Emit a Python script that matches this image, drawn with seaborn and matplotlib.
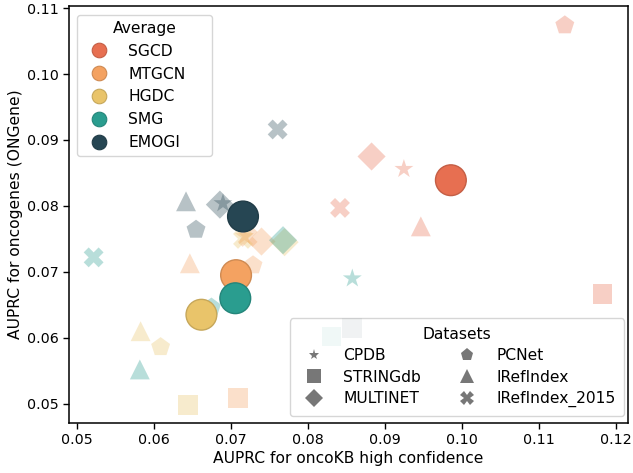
import matplotlib
matplotlib.use("Agg")
import matplotlib.pyplot as plt
from matplotlib.lines import Line2D
import matplotlib.colors as mcolors
import seaborn as sns
import pandas as pd
import numpy as np

methods = ["SGCD", "MTGCN", "HGDC", "SMG", "EMOGI"]
datasets = ["CPDB", "STRINGdb", "MULTINET", "PCNet", "IRefIndex", "IRefIndex_2015"]
colors = ["#e76f51", "#f4a261", "#e9c46a", "#2a9d8f", "#264653"]
markers = ["*", "s", "D", "p", "^", "X"]

# per-dataset values (order of `datasets`)
sgcd_x = [0.0925, 0.1183, 0.0883, 0.1134, 0.0947, 0.0842]
sgcd_y = [0.0856, 0.0667, 0.0875, 0.1074, 0.0769, 0.0797]
mtgcn_x = [0.0718, 0.0709, 0.0740, 0.0729, 0.0647, 0.0722]
mtgcn_y = [0.0754, 0.0509, 0.0746, 0.0710, 0.0713, 0.0753]
hgdc_x = [0.0660, 0.0645, 0.0770, 0.0609, 0.0583, 0.0716]
hgdc_y = [0.0633, 0.0498, 0.0745, 0.0586, 0.0610, 0.0750]
smg_x = [0.0858, 0.0831, 0.0768, 0.0675, 0.0582, 0.0522]
smg_y = [0.0690, 0.0602, 0.0748, 0.0646, 0.0552, 0.0722]
emogi_x = [0.0690, 0.0858, 0.0686, 0.0655, 0.0642, 0.0761]
emogi_y = [0.0804, 0.0615, 0.0802, 0.0764, 0.0807, 0.0916]

# averages
avg_x = [0.0986, 0.0707, 0.0662, 0.0706, 0.0716]
avg_y = [0.0839, 0.0695, 0.0635, 0.0660, 0.0784]

xs = [sgcd_x, mtgcn_x, hgdc_x, smg_x, emogi_x]
ys = [sgcd_y, mtgcn_y, hgdc_y, smg_y, emogi_y]
rows = []
for m, xv, yv in zip(methods, xs, ys):
    for d, a, b in zip(datasets, xv, yv):
        rows.append({"method": m, "dataset": d, "x": a, "y": b})
df = pd.DataFrame(rows)
avg_df = pd.DataFrame({"method": methods, "x": avg_x, "y": avg_y})

palette = dict(zip(methods, colors))
marker_map = dict(zip(datasets, markers))

fig = plt.figure(figsize=(6.33, 4.73), dpi=100)
ax = fig.add_axes([0.109, 0.106, 0.883, 0.881])

sns.scatterplot(data=df, x="x", y="y", hue="method", style="dataset",
                palette=palette, markers=marker_map, s=205, alpha=0.33,
                linewidth=0, legend=False, ax=ax)

sns.scatterplot(data=avg_df, x="x", y="y", hue="method", palette=palette,
                s=490, linewidth=1.0, legend=False, ax=ax)
coll = ax.collections[-1]
def darker(c, f=0.85):
    r, g, b = mcolors.to_rgb(c)
    return (r * f, g * f, b * f)
coll.set_edgecolor([darker(palette[m]) for m in avg_df["method"]])

FS = 11.2
ax.set_xlim(0.0490, 0.1216)
ax.set_ylim(0.0471, 0.1103)
ax.set_xticks([0.05, 0.06, 0.07, 0.08, 0.09, 0.10, 0.11, 0.12])
ax.set_yticks([0.05, 0.06, 0.07, 0.08, 0.09, 0.10, 0.11])
ax.set_xticklabels(["0.05", "0.06", "0.07", "0.08", "0.09", "0.10", "0.11", "0.12"])
ax.set_yticklabels(["0.05", "0.06", "0.07", "0.08", "0.09", "0.10", "0.11"])
ax.tick_params(labelsize=10.3, width=1.0, length=4)
for sp in ax.spines.values():
    sp.set_linewidth(1.1)
ax.set_xlabel("AUPRC for oncoKB high confidence", fontsize=FS, labelpad=3)
ax.set_ylabel("AUPRC for oncogenes (ONGene)", fontsize=FS, labelpad=3)

avg_handles = [Line2D([], [], marker="o", linestyle="", markersize=10.5,
                      markerfacecolor=c, markeredgecolor=darker(c), markeredgewidth=0.8)
               for c in colors]
leg1 = ax.legend(avg_handles, methods, title="Average", loc="upper left",
                 bbox_to_anchor=(0.0143, 0.0, 0.2415, 0.979), mode="expand",
                 fontsize=FS, title_fontsize=FS, borderaxespad=0.0,
                 labelspacing=0.5, handletextpad=0.9)
ax.add_artist(leg1)

msizes = {"*": 8, "s": 10, "D": 9.3, "p": 9.6, "^": 10, "X": 9.5}
ds_handles = [Line2D([], [], marker=mk, linestyle="", markersize=msizes[mk],
                     markerfacecolor="#777777", markeredgecolor="#777777", markeredgewidth=0)
              for mk in markers]
leg2 = ax.legend(ds_handles, datasets, title="Datasets", loc="lower right", ncol=2,
                 bbox_to_anchor=(0.395, 0.0168, 0.598, 0.8), mode="expand",
                 fontsize=FS, title_fontsize=FS, borderaxespad=0.0,
                 labelspacing=0.41, handletextpad=0.9, borderpad=0.55)

fig.savefig("out.png", dpi=100)
